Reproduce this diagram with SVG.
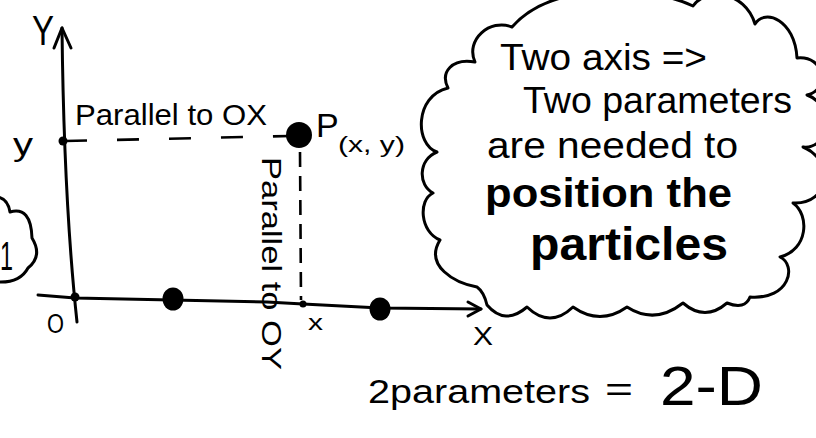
<svg xmlns="http://www.w3.org/2000/svg" width="816" height="438" viewBox="0 0 816 438">
<defs>
<style>
.ink{fill:none;stroke:#000;stroke-width:3;stroke-linecap:round;stroke-linejoin:round}
.dash{fill:none;stroke:#000;stroke-width:2.6;stroke-linecap:butt}
.dot{fill:#000}
.t{font-family:"Liberation Sans","DejaVu Sans",sans-serif;fill:#000}
.b{font-family:"Liberation Sans","DejaVu Sans",sans-serif;fill:#000;font-weight:bold}
</style>
</defs>
<rect width="816" height="438" fill="#fff"/>

<g id="axes">
  <path class="ink" d="M62,28 C63,120 66,220 77,322"/>
  <path class="ink" d="M54,48 L62,28 L71,48"/>
  <path class="ink" d="M38,295 L75,298 L172,300 L267,302 L303,304 L380,308 L481,309"/>
  <path class="ink" d="M468,302 L481,309 L468,316"/>
</g>

<g id="connectors">
  <path class="dash" d="M65,141 L290,136" stroke-dasharray="22 30"/>
  <path class="dash" d="M300,152 L301,300" stroke-dasharray="15 9"/>
</g>

<g id="point-origin"><circle class="dot" cx="75" cy="297" r="4.5"/></g>
<g id="point-y"><circle class="dot" cx="63" cy="141" r="4.5"/></g>
<g id="point-x"><circle class="dot" cx="303" cy="304" r="3.5"/></g>
<g id="particle-1"><ellipse class="dot" cx="173" cy="299" rx="10.5" ry="11.5"/></g>
<g id="particle-2"><ellipse class="dot" cx="380" cy="309" rx="10.5" ry="11.5"/></g>
<g id="point-P">
  <circle class="dot" cx="299" cy="135" r="13"/>
  <text class="t" x="316" y="137" font-size="34">P</text>
  <text class="t" x="338" y="152" font-size="22" textLength="67" lengthAdjust="spacingAndGlyphs">(x, y)</text>
</g>

<g id="labels">
  <text class="t" x="32" y="45" font-size="42" textLength="22" lengthAdjust="spacingAndGlyphs">Y</text>
  <text class="t" x="13" y="155" font-size="32" textLength="20" lengthAdjust="spacingAndGlyphs">y</text>
  <text class="t" x="47" y="333" font-size="27" textLength="17" lengthAdjust="spacingAndGlyphs">O</text>
  <text class="t" x="308" y="330" font-size="22" textLength="15" lengthAdjust="spacingAndGlyphs">x</text>
  <text class="t" x="473" y="345" font-size="25" textLength="20" lengthAdjust="spacingAndGlyphs">X</text>
  <text class="t" x="75" y="125" font-size="30" textLength="192" lengthAdjust="spacingAndGlyphs">Parallel to OX</text>
  <text class="t" transform="translate(262,157) rotate(90)" x="0" y="0" font-size="28" textLength="213" lengthAdjust="spacingAndGlyphs">Parallel to OY</text>
  <text class="t" x="368" y="403" font-size="34" textLength="222" lengthAdjust="spacingAndGlyphs">2parameters</text>
  <text class="t" x="605" y="401" font-size="34" textLength="28" lengthAdjust="spacingAndGlyphs">=</text>
  <text class="t" x="660" y="405" font-size="55" textLength="103" lengthAdjust="spacingAndGlyphs">2-D</text>
</g>

<g id="cloud-left">
  <path class="ink" d="M-2,197 Q8,199 10,212 Q31,206 32,238 Q43,256 28,268 Q20,283 -2,282"/>
  <text class="t" x="0" y="270" font-size="40" textLength="13" lengthAdjust="spacingAndGlyphs">1</text>
</g>

<g id="cloud-main">
  <path class="ink" d="M477,287 C455,283 424,266 440,240 C420,232 418,200 433,193 C418,185 418,160 437,152 C415,145 414,96 448,88 C440,72 452,58 475,62 C465,40 490,18 512,27 Q540,-5 600,-8 Q660,-10 693,6 C705,-12 745,-10 755,24 C765,8 795,20 797,58 C825,55 830,90 807,95 C835,105 830,150 803,147 C835,160 830,205 793,203 C810,215 808,250 780,257 C797,265 790,300 750,297 Q745,310 727,303 Q705,322 683,303 Q655,325 627,307 Q600,326 573,307 Q550,329 527,307 Q505,326 487,305 Q484,292 477,287 Z"/>
  <text class="t" x="500" y="70" font-size="36" textLength="207" lengthAdjust="spacingAndGlyphs">Two axis =&gt;</text>
  <text class="t" x="523" y="113" font-size="36" textLength="269" lengthAdjust="spacingAndGlyphs">Two parameters</text>
  <text class="t" x="487" y="158" font-size="36" textLength="251" lengthAdjust="spacingAndGlyphs">are needed to</text>
  <text class="b" x="485" y="207" font-size="40" textLength="247" lengthAdjust="spacingAndGlyphs">position the</text>
  <text class="b" x="530" y="260" font-size="46" textLength="198" lengthAdjust="spacingAndGlyphs">particles</text>
</g>
</svg>
